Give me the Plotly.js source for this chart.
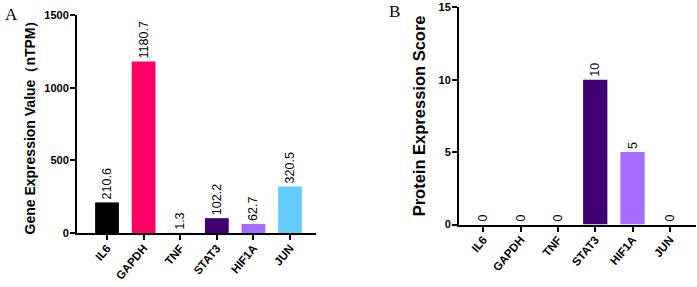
<!DOCTYPE html>
<html>
<head>
<meta charset="utf-8">
<script src="https://cdn.plot.ly/plotly-3.0.1.min.js"></script>
<style>
  html, body { margin: 0; padding: 0; background: #fff; }
  #chart { width: 697px; height: 287px; }
</style>
</head>
<body>
<div id="chart"></div>
<script>
// Genes shown in both panels
const genes = ['IL6', 'GAPDH', 'TNF', 'STAT3', 'HIF1A', 'JUN'];
// Panel A: RNA expression (nTPM)
const geneExpression = [210.6, 1180.7, 1.3, 102.2, 62.7, 320.5];
// Panel B: protein expression score
const proteinScore = [0, 0, 0, 10, 5, 0];
// One colour per gene
const geneColors = ['#000000', '#FF0066', '#FF8C00', '#3F0071', '#A66BFF', '#66CCFF'];

const W = 697, H = 287;
const FONT = 'Liberation Sans, Arial, sans-serif';

function barTrace(values, xa, ya) {
  return {
    type: 'bar',
    x: genes,
    y: values,
    xaxis: xa,
    yaxis: ya,
    width: 0.65,
    marker: { color: geneColors, line: { width: 0 } },
    text: values.map(v => String(v)),
    textposition: 'outside',
    textangle: -90,
    constraintext: 'none',
    cliponaxis: false,
    textfont: { family: FONT, size: 12.5, color: '#000' },
    hoverinfo: 'x+y',
    showlegend: false
  };
}

const xAxisCommon = {
  type: 'category',
  showline: true, linecolor: '#000', linewidth: 2,
  ticks: 'outside', ticklen: 5, tickwidth: 2, tickcolor: '#000',
  tickangle: -50, ticklabelstandoff: -3,
  tickfont: { family: FONT, size: 11.5, color: '#000', weight: 'bold' },
  showgrid: false, zeroline: false, fixedrange: true
};
const yAxisCommon = {
  showline: true, linecolor: '#000', linewidth: 2,
  ticks: 'outside', ticklen: 5, tickwidth: 2, tickcolor: '#000',
  ticklabelstandoff: -1,
  tickfont: { family: FONT, size: 11, color: '#000', weight: 'bold' },
  showgrid: false, zeroline: false, fixedrange: true
};

const layout = {
  width: W, height: H,
  margin: { l: 0, r: 0, t: 0, b: 0 },
  paper_bgcolor: '#fff', plot_bgcolor: '#fff',
  xaxis: Object.assign({}, xAxisCommon, {
    domain: [77 / W, 316 / W], range: [-0.82, 5.71], anchor: 'y'
  }),
  yaxis: Object.assign({}, yAxisCommon, {
    domain: [(H - 233) / H, (H - 15) / H], range: [0, 1500],
    tickvals: [0, 500, 1000, 1500], anchor: 'x',
    title: { text: 'Gene Expression Value（nTPM）', standoff: 5,
             font: { family: FONT, size: 14, color: '#000', weight: 'bold' } }
  }),
  xaxis2: Object.assign({}, xAxisCommon, {
    domain: [459 / W, 696 / W], range: [-0.65, 5.70], anchor: 'y2'
  }),
  yaxis2: Object.assign({}, yAxisCommon, {
    domain: [(H - 224.5) / H, (H - 7.3) / H], range: [0, 15],
    tickvals: [0, 5, 10, 15], anchor: 'x2',
    title: { text: 'Protein Expression Score', standoff: 9,
             font: { family: FONT, size: 16.5, color: '#000', weight: 'bold' } }
  }),
  annotations: [
    { text: 'A', xref: 'paper', yref: 'paper', x: 3 / W, y: 1 - 3 / H,
      xanchor: 'left', yanchor: 'top', showarrow: false,
      font: { family: 'Liberation Serif, Times New Roman, serif', size: 17, color: '#000' } },
    { text: 'B', xref: 'paper', yref: 'paper', x: 387 / W, y: 1,
      xanchor: 'left', yanchor: 'top', showarrow: false,
      font: { family: 'Liberation Serif, Times New Roman, serif', size: 17, color: '#000' } }
  ]
};

Plotly.newPlot('chart', [
  barTrace(geneExpression, 'x', 'y'),
  barTrace(proteinScore, 'x2', 'y2')
], layout, { displayModeBar: false, staticPlot: true });
</script>
</body>
</html>
